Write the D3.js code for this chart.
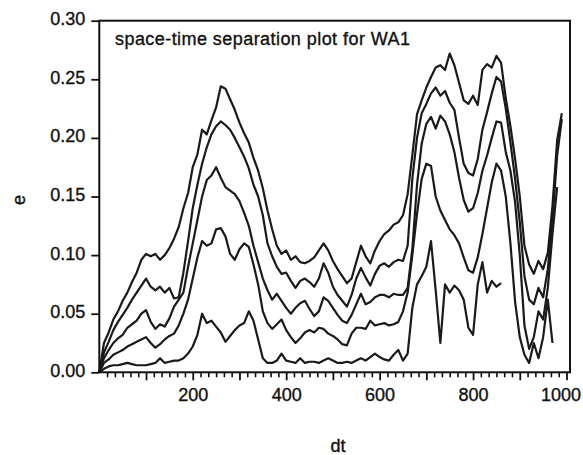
<!DOCTYPE html>
<html>
<head>
<meta charset="utf-8">
<script src="https://cdn.jsdelivr.net/npm/d3@7"></script>
<style>
  body { margin: 0; background: #fff; }
  text { font-family: "Liberation Sans", Arial, sans-serif; fill: #111; stroke: #111; stroke-width: 0.35px; }
</style>
</head>
<body>
<div id="chart"></div>
<script>
// sampling grid of the separation time dt
const dtValues = d3.range(0, 1000, 10);

// five percentile curves (top to bottom)
const curve1 = [
  0.000, 0.025, 0.034, 0.045, 0.052, 0.061, 0.068, 0.077, 0.085, 0.096,
  0.101, 0.099, 0.101, 0.096, 0.100, 0.106, 0.114, 0.124, 0.140, 0.153,
  0.175, 0.186, 0.207, 0.203, 0.215, 0.226, 0.244, 0.242, 0.233, 0.224,
  0.213, 0.204, 0.196, 0.183, 0.172, 0.157, 0.138, 0.122, 0.108, 0.101,
  0.104, 0.096, 0.099, 0.094, 0.093, 0.095, 0.098, 0.104, 0.110, 0.104,
  0.095, 0.088, 0.082, 0.076, 0.080, 0.094, 0.108, 0.099, 0.093, 0.104,
  0.112, 0.118, 0.121, 0.126, 0.128, 0.134, 0.152, 0.185, 0.220, 0.232,
  0.243, 0.252, 0.260, 0.262, 0.258, 0.272, 0.262, 0.247, 0.232, 0.229,
  0.236, 0.228, 0.258, 0.263, 0.260, 0.270, 0.264, 0.234, 0.210, 0.182,
  0.150, 0.108, 0.092, 0.084, 0.095, 0.088, 0.102, 0.142, 0.198, 0.221
];
const curve2 = [
  0.000, 0.017, 0.026, 0.036, 0.043, 0.049, 0.055, 0.062, 0.068, 0.074,
  0.080, 0.073, 0.070, 0.073, 0.068, 0.072, 0.063, 0.064, 0.085, 0.112,
  0.140, 0.160, 0.178, 0.192, 0.203, 0.210, 0.214, 0.211, 0.207, 0.200,
  0.192, 0.184, 0.174, 0.160, 0.150, 0.134, 0.110, 0.099, 0.090, 0.084,
  0.085, 0.078, 0.072, 0.078, 0.080, 0.077, 0.073, 0.080, 0.093, 0.085,
  0.073, 0.066, 0.061, 0.056, 0.066, 0.080, 0.089, 0.081, 0.074, 0.084,
  0.091, 0.093, 0.090, 0.094, 0.096, 0.095, 0.108, 0.165, 0.200, 0.221,
  0.229, 0.238, 0.243, 0.236, 0.240, 0.230, 0.224, 0.200, 0.178, 0.170,
  0.168, 0.182, 0.207, 0.222, 0.238, 0.252, 0.248, 0.225, 0.196, 0.165,
  0.128, 0.082, 0.062, 0.058, 0.072, 0.064, 0.088, 0.130, 0.185, 0.216
];
const curve3 = [
  0.000, 0.012, 0.019, 0.025, 0.029, 0.032, 0.038, 0.041, 0.044, 0.050,
  0.053, 0.043, 0.037, 0.041, 0.039, 0.046, 0.056, 0.062, 0.068, 0.090,
  0.110, 0.130, 0.150, 0.164, 0.168, 0.175, 0.166, 0.158, 0.155, 0.152,
  0.146, 0.136, 0.125, 0.108, 0.094, 0.080, 0.070, 0.062, 0.067, 0.061,
  0.055, 0.050, 0.055, 0.059, 0.061, 0.054, 0.048, 0.052, 0.064, 0.061,
  0.055, 0.049, 0.044, 0.042, 0.049, 0.058, 0.067, 0.058, 0.060, 0.064,
  0.066, 0.066, 0.064, 0.067, 0.066, 0.066, 0.072, 0.105, 0.160, 0.195,
  0.212, 0.218, 0.208, 0.219, 0.214, 0.203, 0.188, 0.166, 0.147, 0.137,
  0.140, 0.153, 0.172, 0.185, 0.200, 0.214, 0.213, 0.188, 0.172, 0.145,
  0.100, 0.040, 0.020, 0.030, 0.052, 0.045, 0.072, 0.118, 0.158, null
];
const curve4 = [
  0.000, 0.008, 0.011, 0.015, 0.017, 0.019, 0.022, 0.024, 0.026, 0.028,
  0.030, 0.025, 0.021, 0.024, 0.028, 0.031, 0.033, 0.040, 0.050, 0.062,
  0.080, 0.098, 0.112, 0.108, 0.110, 0.122, 0.123, 0.116, 0.101, 0.096,
  0.105, 0.110, 0.107, 0.092, 0.075, 0.052, 0.042, 0.037, 0.041, 0.045,
  0.036, 0.030, 0.025, 0.029, 0.034, 0.036, 0.034, 0.038, 0.037, 0.033,
  0.031, 0.028, 0.024, 0.023, 0.033, 0.038, 0.038, 0.037, 0.044, 0.040,
  0.041, 0.042, 0.040, 0.041, 0.043, 0.052, 0.068, 0.100, 0.135, 0.165,
  0.178, 0.176, 0.150, 0.138, 0.130, 0.122, 0.117, 0.110, 0.098, 0.087,
  0.085, 0.098, 0.118, 0.140, 0.162, 0.178, 0.172, 0.150, 0.110, 0.060,
  0.030, 0.015, 0.008, 0.025, 0.012, 0.030, 0.062, 0.025, null, null
];
const curve5 = [
  0.000, 0.003, 0.005, 0.006, 0.006, 0.007, 0.008, 0.007, 0.006, 0.006,
  0.006, 0.007, 0.008, 0.012, 0.008, 0.009, 0.010, 0.010, 0.012, 0.016,
  0.022, 0.032, 0.050, 0.042, 0.044, 0.039, 0.034, 0.026, 0.031, 0.036,
  0.040, 0.042, 0.052, 0.044, 0.028, 0.012, 0.008, 0.008, 0.010, 0.016,
  0.010, 0.009, 0.008, 0.012, 0.008, 0.009, 0.009, 0.008, 0.010, 0.012,
  0.010, 0.008, 0.008, 0.009, 0.008, 0.010, 0.012, 0.010, 0.013, 0.016,
  0.013, 0.011, 0.010, 0.015, 0.019, 0.010, 0.016, 0.055, 0.075, 0.082,
  0.090, 0.112, 0.070, 0.025, 0.075, 0.068, 0.074, 0.070, 0.062, 0.038,
  0.032, 0.075, 0.094, 0.068, 0.078, 0.073, 0.076, null, null, null,
  null, null, null, null, null, null, null, null, null, null
];
const curves = [curve1, curve2, curve3, curve4, curve5];

const yTicks = [0, 0.05, 0.10, 0.15, 0.20, 0.25, 0.30];
const xMajorTicks = [100, 200, 300, 400, 500, 600, 700, 800, 900, 1000];
const xLabelled = [200, 400, 600, 800, 1000];

const width = 583, height = 455;
const frame = { left: 99.3, right: 570, top: 20.7, bottom: 372.3 };

const svg = d3.select('#chart')
  .append('svg')
  .attr('width', width)
  .attr('height', height);

const x = d3.scaleLinear()
  .domain([0, 1007.5])
  .range([frame.left, frame.right]);

const y = d3.scaleLinear()
  .domain([0, 0.30])
  .range([frame.bottom, frame.top]);

// minor ticks every 100/6 along dt
const minorTicks = d3.range(0, 61)
  .filter(i => i % 6 !== 0)
  .map(i => i * 100 / 6);

svg.append('g')
  .attr('transform', `translate(0, ${frame.bottom})`)
  .call(d3.axisBottom(x).tickValues(minorTicks).tickSize(5).tickFormat(''))
  .call(g => g.select('.domain').remove())
  .call(g => g.selectAll('line').attr('stroke', '#111').attr('stroke-width', 1.6));

const xAxis = svg.append('g')
  .attr('transform', `translate(0, ${frame.bottom})`)
  .call(d3.axisBottom(x)
    .tickValues(xMajorTicks)
    .tickSize(8)
    .tickPadding(7.5)
    .tickFormat(d => xLabelled.includes(d) ? d : ''))
  ;
xAxis.select('.domain').remove();
xAxis.selectAll('line').attr('stroke', '#111').attr('stroke-width', 1.8);
xAxis.selectAll('text')
  .attr('font-size', 18)
  .attr('font-family', '"Liberation Sans", Arial, sans-serif')
  .attr('fill', '#111')
  .attr('dx', d => d === 1000 ? -6 : 0);

const yAxis = svg.append('g')
  .attr('transform', `translate(${frame.left}, 0)`)
  .call(d3.axisLeft(y)
    .tickValues(yTicks)
    .tickSize(8)
    .tickPadding(6)
    .tickFormat(d3.format('.2f')))
  ;
yAxis.select('.domain').remove();
yAxis.selectAll('line').attr('stroke', '#111').attr('stroke-width', 1.8);
yAxis.selectAll('text')
  .attr('font-size', 18)
  .attr('font-family', '"Liberation Sans", Arial, sans-serif')
  .attr('fill', '#111')
  .attr('dy', '0.22em');

// the curves
const line = d3.line()
  .defined(d => d[1] !== null)
  .x(d => x(d[0]))
  .y(d => y(d[1]));

svg.append('g')
  .selectAll('path')
  .data(curves)
  .enter()
  .append('path')
  .attr('d', c => line(c.map((v, i) => [dtValues[i], v])))
  .attr('fill', 'none')
  .attr('stroke', '#1a1a1a')
  .attr('stroke-width', 2.2)
  .attr('stroke-linejoin', 'round');

// frame
svg.append('rect')
  .attr('x', frame.left)
  .attr('y', frame.top)
  .attr('width', frame.right - frame.left)
  .attr('height', frame.bottom - frame.top)
  .attr('fill', 'none')
  .attr('stroke', '#111')
  .attr('stroke-width', 2);

svg.append('text')
  .attr('x', 115)
  .attr('y', 44.5)
  .attr('font-size', 18)
  .attr('textLength', 295)
  .attr('lengthAdjust', 'spacing')
  .text('space-time separation plot for WA1');

svg.append('text')
  .attr('transform', 'translate(25, 200) rotate(-90)')
  .attr('text-anchor', 'middle')
  .attr('font-size', 18)
  .text('e');

svg.append('text')
  .attr('x', 338)
  .attr('y', 452)
  .attr('text-anchor', 'middle')
  .attr('font-size', 18)
  .text('dt');
</script>
</body>
</html>
